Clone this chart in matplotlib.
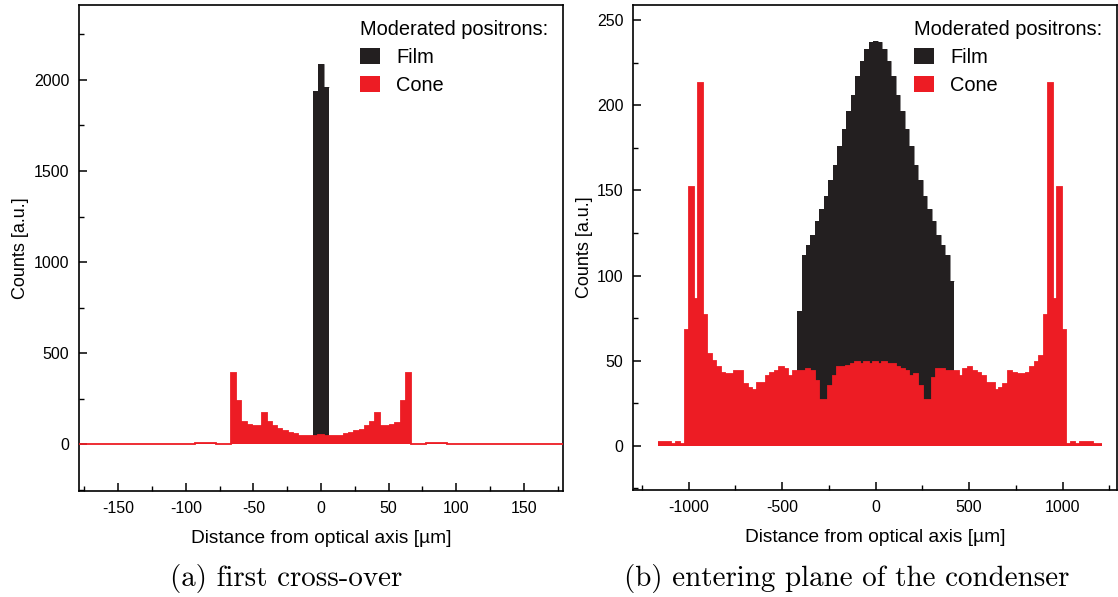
import numpy as np
import matplotlib
matplotlib.use("Agg")
import matplotlib.pyplot as plt
from matplotlib.ticker import MultipleLocator

plt.rcParams['font.family'] = ['Liberation Sans', 'DejaVu Sans']
plt.rcParams['axes.unicode_minus'] = False

FILM_COLOR = '#231F20'
CONE_COLOR = '#ED1C24'

# ---------------- (a) first cross-over ----------------
a_bin_width = 3.8                      # µm
a_film_first_center = -3.8
a_film_counts = [1940, 2084, 1958]
a_cone_first_center = -178.6
a_cone_counts = (
    [1, 2, 2, 1, 2, 2, 2, 1, 2, 2, 2, 2, 2, 2, 3, 3, 2, 3, 3, 3, 3, 4, 5, 6, 6, 6, 6, 5, 4, 4]
    + [391, 241, 122, 108, 99, 104, 173, 124, 99, 85, 73, 62, 57, 46, 48, 48,
       48, 50, 48,
       49, 49, 46, 55, 62, 73, 82, 99, 122, 171, 104, 99, 108, 120, 241, 391]
    + [4, 4, 5, 6, 6, 6, 6, 5, 4, 3, 3, 3, 3, 2, 3, 3, 2, 2, 2, 2, 2, 2, 1, 2, 2, 1, 2, 2, 2, 1]
)
a_xticks = [-150, -100, -50, 0, 50, 100, 150]
a_yticks = [0, 500, 1000, 1500, 2000]

# ---------------- (b) entering plane of the condenser ----------------
b_bin_width = 24                       # µm
b_film_first_center = -408
b_film_counts = [79, 112, 118, 124, 132, 139, 147, 156, 165, 176,
                 186, 197, 206, 217, 226, 233, 237, 238, 237, 233,
                 226, 217, 206, 197, 186, 176, 165, 156, 147, 139,
                 132, 124, 118, 112, 97]
b_cone_first_center = -1152
b_cone_counts = (
    [2, 2, 2, 1, 2, 1]
    + [68, 152, 86, 213, 77, 54, 50, 46, 43, 42, 42, 44, 44, 36, 34, 33, 37, 37, 41, 43,
       44, 46, 45, 41, 44, 44, 44, 45, 44, 38, 27, 27, 35, 41, 46, 46, 47, 48, 49, 48,
       49, 48, 49, 48, 49, 48, 48, 46, 45, 44, 41, 42, 35, 27, 27, 40, 45, 45, 44, 44,
       44, 41, 45, 46, 44, 43, 41, 37, 37, 33, 34, 36, 44, 43, 42, 42, 43, 46, 49, 53,
       77, 213, 86, 152, 68]
    + [1, 2, 1, 2, 2, 2, 1, 1]
)
b_xticks = [-1000, -500, 0, 500, 1000]
b_yticks = [0, 50, 100, 150, 200, 250]

legend_title = 'Moderated positrons:'
series_names = ['Film', 'Cone']
x_label = 'Distance from optical axis [µm]'
y_label = 'Counts [a.u.]'
captions = ['(a) first cross-over', '(b) entering plane of the condenser']


def edges_from(first_center, width, n):
    return first_center - width / 2 + width * np.arange(n + 1)


fig = plt.figure(figsize=(11.18, 5.97), dpi=100)
ax_a = fig.add_axes([79 / 1118, 1 - 491 / 597, 484 / 1118, 486 / 597])
ax_b = fig.add_axes([633 / 1118, 1 - 490 / 597, 484 / 1118, 485 / 597])

panels = [
    (ax_a, a_bin_width, a_film_first_center, a_film_counts, a_cone_first_center, a_cone_counts,
     (-179, 179), (-255, 2410), 50, 25, 500, 250, 3.5),
    (ax_b, b_bin_width, b_film_first_center, b_film_counts, b_cone_first_center, b_cone_counts,
     (-1297, 1291), (-26, 259), 500, 250, 50, 25, 2.5),
]

for (ax, bw, fc, fcounts, cc, ccounts, xlim, ylim, xmaj, xmin, ymaj, ymin, ylpad) in panels:
    fe = edges_from(fc, bw, len(fcounts))
    ce = edges_from(cc, bw, len(ccounts))
    ax.stairs(fcounts, fe, fill=True, color=FILM_COLOR, label=series_names[0], zorder=2)
    ax.stairs(fcounts, fe, fill=False, color='#8c8a8b', lw=0.7, baseline=None, zorder=1.9)
    ax.stairs(ccounts, ce, fill=True, color=CONE_COLOR, label=series_names[1], zorder=3)
    ax.stairs(ccounts, ce, fill=False, color=CONE_COLOR, lw=1.3, baseline=None, zorder=3.1)
    ax.set_xlim(*xlim)
    ax.set_ylim(*ylim)
    ax.xaxis.set_major_locator(MultipleLocator(xmaj))
    ax.xaxis.set_minor_locator(MultipleLocator(xmin))
    ax.yaxis.set_major_locator(MultipleLocator(ymaj))
    ax.yaxis.set_minor_locator(MultipleLocator(ymin))
    ax.tick_params(which='major', direction='in', length=6, width=1.1,
                   labelsize=11.5, pad=7, top=False, right=False)
    ax.tick_params(which='minor', direction='in', length=3.5, width=1.0,
                   top=False, right=False)
    for s in ax.spines.values():
        s.set_linewidth(1.2)
    ax.set_xlabel(x_label, fontsize=13.8, labelpad=10.5)
    ax.set_ylabel(y_label, fontsize=13, labelpad=ylpad)
    ax.legend(title=legend_title, loc='upper right', frameon=False,
              fontsize=14.4, title_fontproperties={'size': 14.4},
              handlelength=1.0, handleheight=0.85, handletextpad=0.8,
              labelspacing=0.45, alignment='left', borderaxespad=0.35)

ax_a.set_xticks(a_xticks)
ax_a.set_yticks(a_yticks)
ax_b.set_xticks(b_xticks)
ax_b.set_yticks(b_yticks)
ax_a.xaxis.set_minor_locator(MultipleLocator(25))
ax_a.yaxis.set_minor_locator(MultipleLocator(250))
ax_b.xaxis.set_minor_locator(MultipleLocator(250))
ax_b.yaxis.set_minor_locator(MultipleLocator(25))

fig.text(0.256, 0.031, captions[0], family='cmr10', fontsize=20.9, ha='center', va='center')
fig.text(0.7575, 0.031, captions[1], family='cmr10', fontsize=20.9, ha='center', va='center')

fig.savefig('out.png', dpi=100)
